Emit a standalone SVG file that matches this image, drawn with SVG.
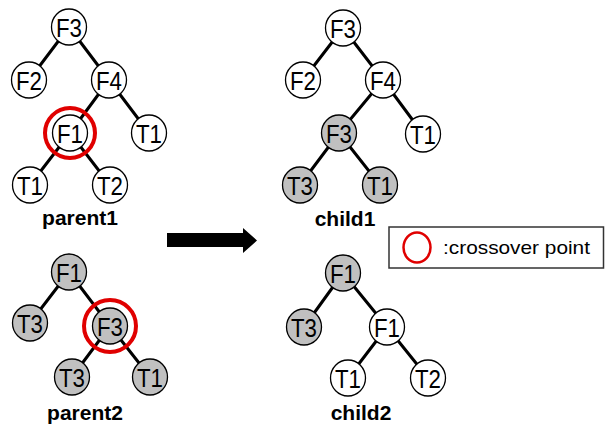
<svg xmlns="http://www.w3.org/2000/svg" width="605" height="428" viewBox="0 0 605 428">
<style>
.e{stroke:#000;stroke-width:3;fill:none}
.n ellipse{stroke:#000;stroke-width:1.3}
.w ellipse{fill:#fff}
.g ellipse{fill:#c0c0c0}
.n text{font-family:"Liberation Sans",Arial,sans-serif;font-size:26px;text-anchor:middle;fill:#000}
.lbl{font-family:"Liberation Sans",Arial,sans-serif;font-size:21px;font-weight:bold;text-anchor:middle;fill:#000}
.red{fill:none;stroke:#e00000;stroke-width:4}
</style>
<rect width="605" height="428" fill="#fff"/>
<g id="connectors">
<path class="e" d="M69,27L29,80M69,27L109,80M109,80L70,133M109,80L149,133M70,133L30,185M70,133L110,185"/>
<path class="e" d="M343,28L303,80M343,28L383,80M383,80L339,133M383,80L423,134M339,133L300,185M339,133L380,185"/>
<path class="e" d="M69,272L30,323M69,272L110,326M110,326L72,377M110,326L150,377"/>
<path class="e" d="M343,273L304,327M343,273L387,327M387,327L348,378M387,327L428,378"/>
</g>
<g id="p1_F3" class="n w"><ellipse cx="69" cy="27" rx="17.5" ry="18"/><text x="69" y="36.5" textLength="26" lengthAdjust="spacingAndGlyphs">F3</text></g>
<g id="p1_F2" class="n w"><ellipse cx="29" cy="80" rx="17.5" ry="18"/><text x="29" y="89.5" textLength="26" lengthAdjust="spacingAndGlyphs">F2</text></g>
<g id="p1_F4" class="n w"><ellipse cx="109" cy="80" rx="17.5" ry="18"/><text x="109" y="89.5" textLength="26" lengthAdjust="spacingAndGlyphs">F4</text></g>
<g id="p1_F1" class="n w"><ellipse cx="70" cy="133" rx="17.5" ry="18"/><text x="70" y="142.5" textLength="26" lengthAdjust="spacingAndGlyphs">F1</text></g>
<g id="p1_T1r" class="n w"><ellipse cx="149" cy="133" rx="17.5" ry="18"/><text x="149" y="142.5" textLength="26" lengthAdjust="spacingAndGlyphs">T1</text></g>
<g id="p1_T1" class="n w"><ellipse cx="30" cy="185" rx="17.5" ry="18"/><text x="30" y="194.5" textLength="26" lengthAdjust="spacingAndGlyphs">T1</text></g>
<g id="p1_T2" class="n w"><ellipse cx="110" cy="185" rx="17.5" ry="18"/><text x="110" y="194.5" textLength="26" lengthAdjust="spacingAndGlyphs">T2</text></g>
<circle class="red" cx="70" cy="133" r="25"/>
<text class="lbl" x="80" y="225">parent1</text>

<g id="c1_F3" class="n w"><ellipse cx="343" cy="28" rx="17.5" ry="18"/><text x="343" y="37.5" textLength="26" lengthAdjust="spacingAndGlyphs">F3</text></g>
<g id="c1_F2" class="n w"><ellipse cx="303" cy="80" rx="17.5" ry="18"/><text x="303" y="89.5" textLength="26" lengthAdjust="spacingAndGlyphs">F2</text></g>
<g id="c1_F4" class="n w"><ellipse cx="383" cy="80" rx="17.5" ry="18"/><text x="383" y="89.5" textLength="26" lengthAdjust="spacingAndGlyphs">F4</text></g>
<g id="c1_F3g" class="n g"><ellipse cx="339" cy="133" rx="17.5" ry="18"/><text x="339" y="142.5" textLength="26" lengthAdjust="spacingAndGlyphs">F3</text></g>
<g id="c1_T1r" class="n w"><ellipse cx="423" cy="134" rx="17.5" ry="18"/><text x="423" y="143.5" textLength="26" lengthAdjust="spacingAndGlyphs">T1</text></g>
<g id="c1_T3" class="n g"><ellipse cx="300" cy="185" rx="17.5" ry="18"/><text x="300" y="194.5" textLength="26" lengthAdjust="spacingAndGlyphs">T3</text></g>
<g id="c1_T1g" class="n g"><ellipse cx="380" cy="185" rx="17.5" ry="18"/><text x="380" y="194.5" textLength="26" lengthAdjust="spacingAndGlyphs">T1</text></g>
<text class="lbl" x="345" y="226">child1</text>

<g id="p2_F1" class="n g"><ellipse cx="69" cy="272" rx="17.5" ry="18"/><text x="69" y="281.5" textLength="26" lengthAdjust="spacingAndGlyphs">F1</text></g>
<g id="p2_T3" class="n g"><ellipse cx="30" cy="323" rx="17.5" ry="18"/><text x="30" y="332.5" textLength="26" lengthAdjust="spacingAndGlyphs">T3</text></g>
<g id="p2_F3" class="n g"><ellipse cx="110" cy="326" rx="17.5" ry="18"/><text x="110" y="335.5" textLength="26" lengthAdjust="spacingAndGlyphs">F3</text></g>
<g id="p2_T3b" class="n g"><ellipse cx="72" cy="377" rx="17.5" ry="18"/><text x="72" y="386.5" textLength="26" lengthAdjust="spacingAndGlyphs">T3</text></g>
<g id="p2_T1" class="n g"><ellipse cx="150" cy="377" rx="17.5" ry="18"/><text x="150" y="386.5" textLength="26" lengthAdjust="spacingAndGlyphs">T1</text></g>
<circle class="red" cx="110" cy="326" r="26"/>
<text class="lbl" x="85" y="420">parent2</text>

<g id="c2_F1g" class="n g"><ellipse cx="343" cy="273" rx="17.5" ry="18"/><text x="343" y="282.5" textLength="26" lengthAdjust="spacingAndGlyphs">F1</text></g>
<g id="c2_T3" class="n g"><ellipse cx="304" cy="327" rx="17.5" ry="18"/><text x="304" y="336.5" textLength="26" lengthAdjust="spacingAndGlyphs">T3</text></g>
<g id="c2_F1" class="n w"><ellipse cx="387" cy="327" rx="17.5" ry="18"/><text x="387" y="336.5" textLength="26" lengthAdjust="spacingAndGlyphs">F1</text></g>
<g id="c2_T1" class="n w"><ellipse cx="348" cy="378" rx="17.5" ry="18"/><text x="348" y="387.5" textLength="26" lengthAdjust="spacingAndGlyphs">T1</text></g>
<g id="c2_T2" class="n w"><ellipse cx="428" cy="378" rx="17.5" ry="18"/><text x="428" y="387.5" textLength="26" lengthAdjust="spacingAndGlyphs">T2</text></g>
<text class="lbl" x="361" y="420">child2</text>

<g id="arrow"><polygon points="167,233 243,233 243,228 257,240.5 243,253 243,247 167,247" fill="#000"/></g>

<g id="legend">
<rect x="389" y="227" width="214.5" height="41" fill="#fff" stroke="#333" stroke-width="1.5"/>
<ellipse cx="417" cy="247.5" rx="13.5" ry="15" fill="none" stroke="#e00000" stroke-width="2.5"/>
<text x="443" y="254" font-family="'Liberation Sans',Arial,sans-serif" font-size="19" textLength="147" lengthAdjust="spacingAndGlyphs">:crossover point</text>
</g>
</svg>
